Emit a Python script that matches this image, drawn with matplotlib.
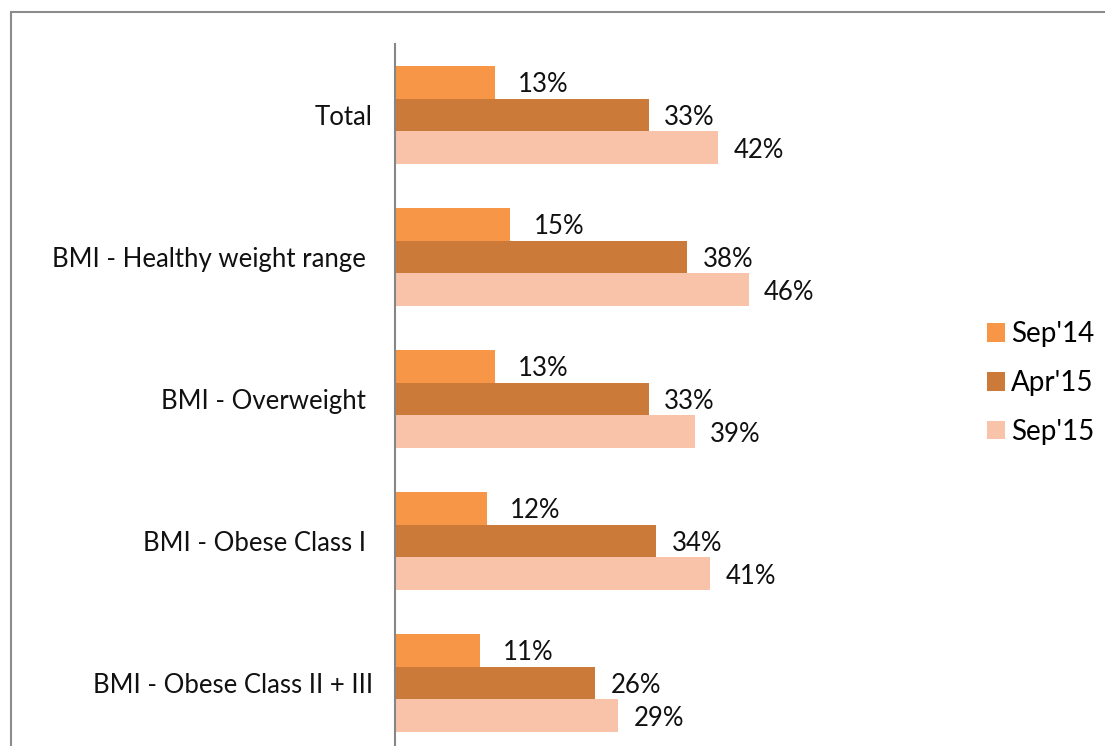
import numpy as np
import matplotlib.pyplot as plt
from matplotlib.patches import Rectangle

plt.rcParams['font.family'] = ['Lato', 'DejaVu Sans']

# Datos
categorias = ['Total', 'BMI - Healthy weight range ', 'BMI - Overweight ',
              'BMI - Obese Class I ', 'BMI - Obese Class II + III']
series = ["Sep'14", "Apr'15", "Sep'15"]
sep14 = [13, 15, 13, 12, 11]
apr15 = [33, 38, 33, 34, 26]
sep15 = [42, 46, 39, 41, 29]
colores = ['#F79646', '#CB7A3A', '#F9C3A9']

fig = plt.figure(figsize=(11.05, 7.46), dpi=100)

# Marco gris del grafico (se sale por la derecha y abajo)
fig.patches.append(Rectangle((11 / 1105, -0.1), 1.2, (746 - 12) / 746 + 0.1,
                             transform=fig.transFigure, fill=False,
                             edgecolor='#8C8C8C', linewidth=1.5))

ax = fig.add_axes([395 / 1105, -8 / 746, (950 - 395) / 1105, 710 / 746])

y = np.arange(len(categorias))
h = 0.232
valores = [sep14, apr15, sep15]
for i, (nombre, vals) in enumerate(zip(series, valores)):
    pos = y + (i - 1) * h
    ax.barh(pos, vals, height=h, color=colores[i], label=nombre)
    offset = 3.0 if i == 0 else 2.0
    for p, v in zip(pos, vals):
        ax.text(v + offset, p + 0.02, f'{v}%', va='center', ha='left',
                fontsize=18.5, color='#111111')

ax.set_xlim(0, (950 - 395) / 7.69)
ax.set_ylim(len(categorias) - 0.5, -0.5)
ax.set_yticks(y)
ax.set_yticklabels(categorias, fontsize=18.5, color='#111111')
ax.tick_params(axis='y', length=0, pad=16)
ax.set_xticks([])
for s in ['top', 'right', 'bottom']:
    ax.spines[s].set_visible(False)
ax.spines['left'].set_color('#868686')
ax.spines['left'].set_linewidth(1.5)

fig.legend(loc='center left', bbox_to_anchor=(962 / 1105, 1 - 383 / 746),
           frameon=False, fontsize=20, handlelength=0.65, handleheight=0.65,
           handletextpad=0.2, labelspacing=0.82)

fig.savefig('out.png', dpi=100)
